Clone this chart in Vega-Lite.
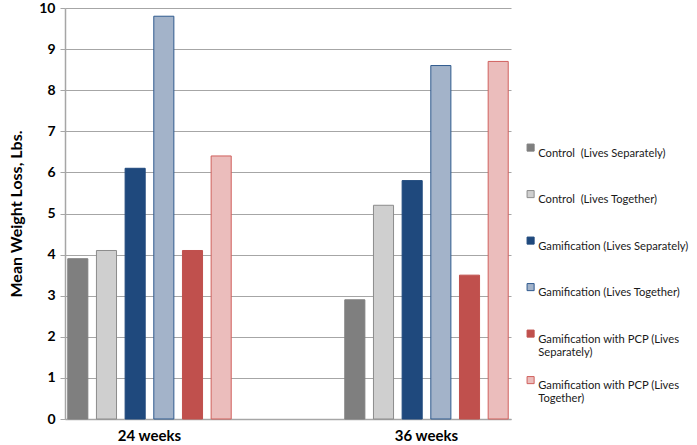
{
  "$schema": "https://vega.github.io/schema/vega-lite/v6.json",
  "width": 446,
  "height": 411,
  "autosize": {"type": "none"},
  "padding": {"left": 65, "top": 8, "right": 186, "bottom": 26},
  "background": "white",
  "data": {
    "values": [
      {"period": "24 weeks", "series": "Control  (Lives Separately)", "loss": 3.9},
      {"period": "24 weeks", "series": "Control  (Lives Together)", "loss": 4.1},
      {"period": "24 weeks", "series": "Gamification (Lives Separately)", "loss": 6.1},
      {"period": "24 weeks", "series": "Gamification (Lives Together)", "loss": 9.8},
      {"period": "24 weeks", "series": "Gamification with PCP (Lives Separately)", "loss": 4.1},
      {"period": "24 weeks", "series": "Gamification with PCP (Lives Together)", "loss": 6.4},
      {"period": "36 weeks", "series": "Control  (Lives Separately)", "loss": 2.9},
      {"period": "36 weeks", "series": "Control  (Lives Together)", "loss": 5.2},
      {"period": "36 weeks", "series": "Gamification (Lives Separately)", "loss": 5.8},
      {"period": "36 weeks", "series": "Gamification (Lives Together)", "loss": 8.6},
      {"period": "36 weeks", "series": "Gamification with PCP (Lives Separately)", "loss": 3.5},
      {"period": "36 weeks", "series": "Gamification with PCP (Lives Together)", "loss": 8.7}
    ]
  },
  "mark": {"type": "bar", "strokeWidth": 1, "cornerRadius": 0},
  "encoding": {
    "x": {
      "field": "period",
      "type": "nominal",
      "scale": {"paddingInner": 0.41, "paddingOuter": 0.01},
      "axis": {
        "title": null,
        "labelAngle": 0,
        "labelFont": "Lato",
        "labelFontWeight": "bold",
        "labelFontSize": 15,
        "labelColor": "#000000",
        "labelPadding": 9,
        "ticks": false,
        "domainColor": "#a6a6a6",
        "domainWidth": 1.5
      }
    },
    "xOffset": {
      "field": "series",
      "type": "nominal",
      "sort": [
        "Control  (Lives Separately)",
        "Control  (Lives Together)",
        "Gamification (Lives Separately)",
        "Gamification (Lives Together)",
        "Gamification with PCP (Lives Separately)",
        "Gamification with PCP (Lives Together)"
      ],
      "scale": {"paddingInner": 0.3, "paddingOuter": 0}
    },
    "y": {
      "field": "loss",
      "type": "quantitative",
      "scale": {"domain": [0, 10], "nice": false},
      "axis": {
        "title": "Mean Weight Loss, Lbs.",
        "titleFont": "Lato",
        "titleFontWeight": "bold",
        "titleFontSize": 16,
        "titleColor": "#000000",
        "titlePadding": 14,
        "values": [0, 1, 2, 3, 4, 5, 6, 7, 8, 9, 10],
        "labelOverlap": false,
        "labelFont": "Lato",
        "labelFontWeight": "bold",
        "labelFontSize": 14,
        "labelColor": "#000000",
        "labelPadding": 5,
        "labelFlush": false,
        "tickSize": 5,
        "tickColor": "#a6a6a6",
        "domainColor": "#a6a6a6",
        "domainWidth": 1.5,
        "gridColor": "#a6a6a6",
        "gridWidth": 1.2
      }
    },
    "fill": {
      "field": "series",
      "type": "nominal",
      "scale": {
        "domain": [
          "Control  (Lives Separately)",
          "Control  (Lives Together)",
          "Gamification (Lives Separately)",
          "Gamification (Lives Together)",
          "Gamification with PCP (Lives Separately)",
          "Gamification with PCP (Lives Together)"
        ],
        "range": ["#7f7f7f", "#cfcfcf", "#1f497d", "#a3b3c9", "#c0504d", "#ebbdbc"]
      },
      "legend": {
        "title": null,
        "orient": "none",
        "legendX": 460,
        "legendY": 134,
        "symbolType": "square",
        "symbolSize": 50,
        "symbolStrokeWidth": 1,
        "labelFont": "Lato",
        "labelFontSize": 11.2,
        "labelColor": "#1a1a1a",
        "labelLimit": 200,
        "labelOffset": 2,
        "labelBaseline": "top",
        "gridAlign": "all",
        "rowPadding": 16.5,
        "labelExpr": "datum.label == 'Gamification with PCP (Lives Separately)' ? ['Gamification with PCP (Lives', 'Separately)'] : datum.label == 'Gamification with PCP (Lives Together)' ? ['Gamification with PCP (Lives', 'Together)'] : replace(datum.label, '  ', ' \u00a0')"
      }
    },
    "stroke": {
      "field": "series",
      "type": "nominal",
      "scale": {
        "domain": [
          "Control  (Lives Separately)",
          "Control  (Lives Together)",
          "Gamification (Lives Separately)",
          "Gamification (Lives Together)",
          "Gamification with PCP (Lives Separately)",
          "Gamification with PCP (Lives Together)"
        ],
        "range": ["#7f7f7f", "#8c8c8c", "#1f497d", "#2f5a8e", "#c0504d", "#d0605d"]
      },
      "legend": null
    }
  },
  "config": {
    "view": {"stroke": null},
    "bar": {"fillOpacity": 1}
  }
}
